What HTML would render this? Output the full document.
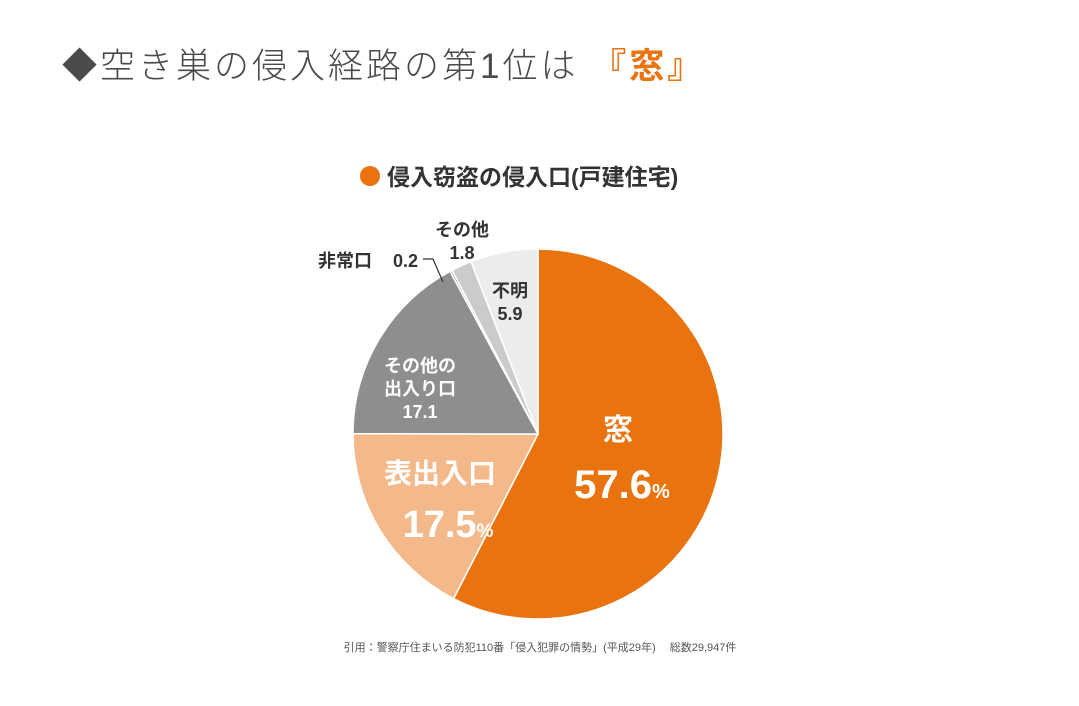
<!DOCTYPE html>
<html><head><meta charset="utf-8">
<style>
html,body{margin:0;padding:0;background:#fff;}
body{width:1079px;height:706px;overflow:hidden;position:relative;font-family:"Liberation Sans","Noto Sans CJK JP",sans-serif;}
#title{position:absolute;left:62px;top:38px;font-size:35px;color:#4a4a4a;letter-spacing:3px;font-weight:300;white-space:nowrap;}
#title .hl{color:#e8730f;font-weight:bold;}
svg{position:absolute;left:0;top:0;}
</style></head>
<body>
<div id="title">◆空き巣の侵入経路の第1位は <span class="hl">『窓』</span></div>
<svg id="chart" width="1079" height="706">
  <circle cx="370" cy="176" r="10" fill="#e8730f"/>
  <text x="387" y="185" font-size="23" font-weight="bold" fill="#333" font-family="Liberation Sans,Noto Sans CJK JP,sans-serif">侵入窃盗の侵入口(戸建住宅)</text>
  <g id="slices"></g>
  <g id="labels" font-family="Liberation Sans,Noto Sans CJK JP,sans-serif" font-weight="bold">
    <text x="618" y="440" font-size="30" fill="#fff" text-anchor="middle">窓</text>
    <text x="622" y="498" font-size="40" fill="#fff" text-anchor="middle">57.6<tspan font-size="20">%</tspan></text>
    <text x="440" y="483" font-size="28" fill="#fff" text-anchor="middle">表出入口</text>
    <text x="448" y="537" font-size="38" fill="#fff" text-anchor="middle">17.5<tspan font-size="19">%</tspan></text>
    <text x="420" y="372" font-size="18" fill="#fff" text-anchor="middle">その他の</text>
    <text x="420" y="395" font-size="18" fill="#fff" text-anchor="middle">出入り口</text>
    <text x="420" y="418" font-size="18" fill="#fff" text-anchor="middle">17.1</text>
    <text x="510" y="297" font-size="18" fill="#333" text-anchor="middle">不明</text>
    <text x="510" y="320" font-size="18" fill="#333" text-anchor="middle">5.9</text>
    <text x="462" y="236" font-size="18" fill="#333" text-anchor="middle">その他</text>
    <text x="462" y="259" font-size="18" fill="#333" text-anchor="middle">1.8</text>
    <text x="318" y="267" font-size="18" fill="#333">非常口</text>
    <text x="393" y="267" font-size="18" fill="#333">0.2</text>
  </g>
  <polyline points="423,259 433,259 443,282" fill="none" stroke="#333" stroke-width="1.2"/>
  <text x="540" y="651" font-size="11" fill="#555" text-anchor="middle" font-family="Liberation Sans,Noto Sans CJK JP,sans-serif">引用：警察庁住まいる防犯110番「侵入犯罪の情勢」(平成29年)　 総数29,947件</text>
</svg>
<script>
const categories = ["窓","表出入口","その他の出入り口","非常口","その他","不明"];
const values = [57.6,17.5,17.1,0.2,1.8,5.9];
const colors = ["#e8730f","#f4b98a","#8e8e8e","#b0b0b0","#cbcbcb","#ececec"];
const cx = 538, cy = 434, R = 185;
const total = values.reduce((a,b)=>a+b,0);
const g = document.getElementById('slices');
let acc = 0;
function pt(a){ return [cx + R*Math.sin(a), cy - R*Math.cos(a)]; }
values.forEach((v,i)=>{
  const a0 = acc/total*2*Math.PI; acc += v;
  const a1 = acc/total*2*Math.PI;
  const p0 = pt(a0), p1 = pt(a1);
  const large = (a1-a0) > Math.PI ? 1 : 0;
  const path = document.createElementNS('http://www.w3.org/2000/svg','path');
  path.setAttribute('d', `M${cx},${cy} L${p0[0]},${p0[1]} A${R},${R} 0 ${large} 1 ${p1[0]},${p1[1]} Z`);
  path.setAttribute('fill', colors[i]);
  path.setAttribute('stroke', '#fff');
  path.setAttribute('stroke-width', '1.5');
  
  
  g.appendChild(path);
});
</script>
</body></html>
